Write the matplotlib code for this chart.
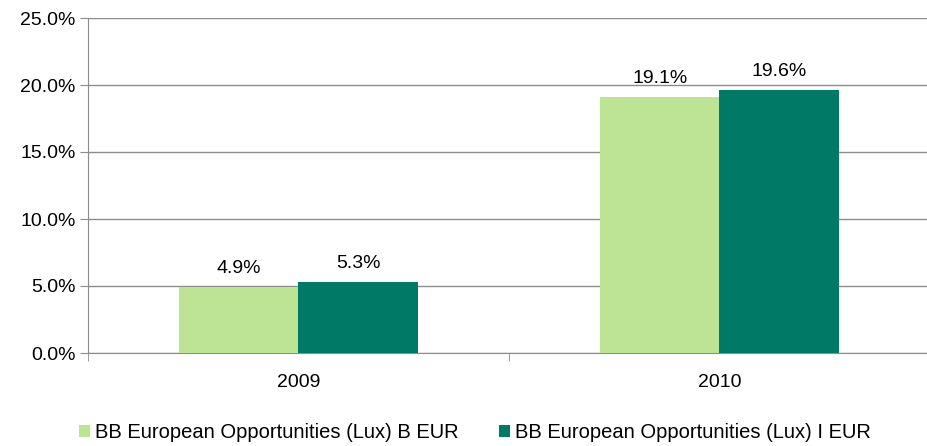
import matplotlib.pyplot as plt
import numpy as np

plt.rcParams['font.family'] = ['Liberation Sans', 'DejaVu Sans']

years = ['2009', '2010']
fund_b = [4.9, 19.1]
fund_i = [5.3, 19.6]
labels = ['BB European Opportunities (Lux) B EUR', 'BB European Opportunities (Lux) I EUR']
c_light = '#bde394'
c_dark = '#007a66'
grey = '#8c8c8c'

fig = plt.figure(figsize=(9.28, 4.46), dpi=100)
ax = fig.add_axes([88/928, 93/446, 842/928, 335/446])

x = np.arange(len(years))
w = 0.284
b1 = ax.bar(x - w/2, fund_b, w, color=c_light, label=labels[0], zorder=3)
b2 = ax.bar(x + w/2, fund_i, w, color=c_dark, label=labels[1], zorder=3)

for bars, vals in [(b1, fund_b), (b2, fund_i)]:
    for r, v in zip(bars, vals):
        ax.text(r.get_x() + r.get_width()/2, v + 0.75, '%.1f%%' % v,
                ha='center', va='bottom', fontsize=14, zorder=4)

ax.set_xlim(-0.5, 1.5)
ax.set_ylim(0, 25)
ax.set_yticks(np.arange(0, 26, 5))
ax.set_yticklabels(['%.1f%%' % t for t in np.arange(0, 26, 5)], fontsize=14)
ax.set_xticks(x)
ax.set_xticklabels(years, fontsize=14)
ax.set_xticks([-0.5, 0.5, 1.5], minor=True)
ax.tick_params(axis='x', which='major', length=0, pad=15)
ax.tick_params(axis='x', which='minor', length=6, color=grey, direction='out')
ax.tick_params(axis='y', length=6, color=grey, pad=3)

ax.grid(axis='y', color=grey, linewidth=1, zorder=0)
for s in ['top', 'right']:
    ax.spines[s].set_visible(False)
ax.spines['left'].set_color(grey)
ax.spines['bottom'].set_color(grey)

fig.legend(handles=[b1, b2], loc='center', bbox_to_anchor=(475/928, 1 - 433/446),
           ncol=2, frameon=False, fontsize=14.5, handlelength=0.55, handleheight=0.55,
           handletextpad=0.25, columnspacing=2.0)

fig.savefig('out.png', dpi=100)
